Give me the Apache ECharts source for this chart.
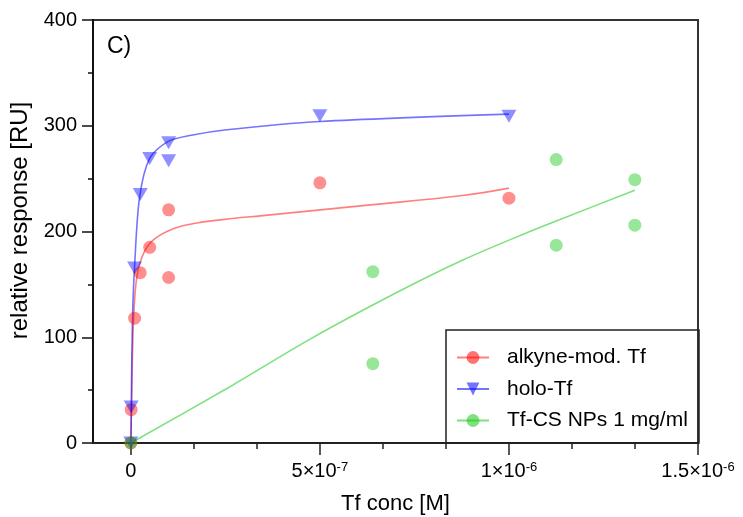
<!DOCTYPE html>
<html>
<head>
<meta charset="utf-8">
<script src="https://cdn.jsdelivr.net/npm/echarts@6/dist/echarts.min.js"></script>
<style>
  html, body { margin: 0; padding: 0; background: #fff; }
  #chart { width: 743px; height: 517px; }
</style>
</head>
<body>
<div id="chart"></div>
<script>
// Binding responses (RU) against transferrin concentration (M)
const alkyneConc = [0, 1e-9, 1e-8, 2.5e-8, 5e-8, 1e-7, 1e-7, 5e-7, 1e-6];
const alkyneResp = [0, 31.5, 118, 161, 185, 220.5, 156.5, 246, 231.5];

const holoConc = [0, 1e-9, 1e-8, 2.5e-8, 5e-8, 1e-7, 1e-7, 5e-7, 1e-6];
const holoResp = [0, 34, 165.5, 235, 269, 284, 267, 309.5, 309];

const npConc = [0, 6.4e-7, 6.4e-7, 1.125e-6, 1.125e-6, 1.333e-6, 1.333e-6];
const npResp = [0, 162, 75, 268, 187, 249, 206];

// Fitted binding curves
const alkyneFitConc = [0, 2.6e-9, 5.3e-9, 9.8e-9, 1.85e-8, 3.6e-8, 6.3e-8, 1.16e-7, 1.75e-7, 2.48e-7, 3.49e-7, 6.14e-7, 8.78e-7, 1e-6];
const alkyneFitResp = [0, 49, 96, 134, 162, 181, 193, 203, 208, 211.5, 215, 224.5, 234, 241];

const holoFitConc = [0, 1e-9, 2.6e-9, 5.3e-9, 9.8e-9, 2.3e-8, 4.95e-8, 9.8e-8, 1.6e-7, 2.48e-7, 5e-7, 1e-6];
const holoFitResp = [0, 17, 80, 128, 166, 232, 269, 285, 291, 296, 304, 311];

const npFitConc = [0, 2.61e-7, 4.73e-7, 7.02e-7, 8.78e-7, 1.055e-6, 1.125e-6, 1.333e-6];
const npFitResp = [0, 53, 98, 142, 173, 200, 210, 239];

// Axis ticks
const xTickValues = [0, 5e-7, 1e-6, 1.5e-6];
const xTickLabels = ['0', '5×10{sup|-7}', '1×10{sup|-6}', '1.5×10{sup|-6}'];
const xMinorTickValues = [1.6667e-7, 3.3333e-7, 6.6667e-7, 8.3333e-7, 1.16667e-6, 1.33333e-6];

const seriesNames = ['alkyne-mod. Tf', 'holo-Tf', 'Tf-CS NPs 1 mg/ml'];
const pointColors = ['rgba(255,0,0,0.55)', 'rgba(0,0,255,0.55)', 'rgba(20,200,20,0.55)'];
const lineColors = ['rgba(255,0,0,0.5)', 'rgba(0,0,255,0.55)', 'rgba(20,200,20,0.55)'];

const FONT = "'Liberation Sans', Arial, sans-serif";

function pairs(xs, ys) { return xs.map((x, i) => [x, ys[i]]); }

const groups = [
  { fit: pairs(alkyneFitConc, alkyneFitResp), pts: pairs(alkyneConc, alkyneResp), symbol: 'circle', size: 13, rotate: 0, smooth: 0.4 },
  { fit: pairs(holoFitConc, holoFitResp), pts: pairs(holoConc, holoResp), symbol: 'triangle', size: [15, 13], rotate: 180, smooth: 0.3 },
  { fit: pairs(npFitConc, npFitResp), pts: pairs(npConc, npResp), symbol: 'circle', size: 13, rotate: 0, smooth: 0.3 }
];

const series = [];
groups.forEach((g, i) => {
  series.push({
    name: seriesNames[i],
    type: 'line',
    data: g.fit,
    smooth: g.smooth,
    showSymbol: false,
    symbol: g.symbol,
    symbolRotate: g.rotate,
    symbolSize: g.size,
    itemStyle: { color: pointColors[i] },
    lineStyle: { color: lineColors[i], width: 1.6 },
    z: 2,
    silent: true
  });
});
groups.forEach((g, i) => {
  series.push({
    name: seriesNames[i],
    type: 'scatter',
    data: g.pts,
    symbol: g.symbol,
    symbolRotate: g.rotate,
    symbolSize: g.size,
    itemStyle: { color: pointColors[i] },
    z: 3
  });
});

const chart = echarts.init(document.getElementById('chart'), null, { renderer: 'canvas' });
chart.setOption({
  animation: false,
  backgroundColor: '#fff',
  textStyle: { fontFamily: FONT },
  grid: {
    left: 93, right: 45, top: 20, bottom: 74,
    containLabel: false,
    outerBoundsMode: 'none',
    show: true,
    borderColor: '#333',
    borderWidth: 2
  },
  xAxis: [
    {
      type: 'value',
      min: -1e-7,
      max: 1.5e-6,
      name: 'Tf conc [M]',
      nameLocation: 'middle',
      nameGap: 50,
      nameTextStyle: { fontSize: 22, color: '#000', fontFamily: FONT },
      axisLine: { onZero: false, lineStyle: { color: '#222', width: 2 } },
      axisTick: { show: true, customValues: xTickValues, length: 12, lineStyle: { color: '#222', width: 1.5 } },
      axisLabel: {
        customValues: xTickValues,
        margin: 18,
        color: '#000',
        fontSize: 20,
        fontFamily: FONT,
        formatter: function (v) {
          const idx = xTickValues.findIndex(t => Math.abs(t - v) < 1e-12);
          return idx >= 0 ? xTickLabels[idx] : '';
        },
        rich: {
          sup: { fontSize: 13, verticalAlign: 'top', lineHeight: 13, color: '#000', fontFamily: FONT }
        }
      },
      splitLine: { show: false }
    },
    {
      type: 'value',
      min: -1e-7,
      max: 1.5e-6,
      position: 'bottom',
      axisLine: { show: false, onZero: false },
      axisTick: { show: true, customValues: xMinorTickValues, length: 6, lineStyle: { color: '#222', width: 1.5 } },
      axisLabel: { show: false },
      splitLine: { show: false }
    }
  ],
  yAxis: {
    type: 'value',
    min: 0,
    max: 400,
    interval: 100,
    name: 'relative response [RU]',
    nameLocation: 'middle',
    nameGap: 57,
    nameTextStyle: { fontSize: 24, color: '#000', fontFamily: FONT, padding: [0, 0, 0, 22] },
    axisLine: { show: true, onZero: false, lineStyle: { color: '#111', width: 2 } },
    axisTick: { show: true, length: 11, lineStyle: { color: '#111', width: 1.5 } },
    minorTick: { show: true, splitNumber: 2, length: 5, lineStyle: { color: '#111', width: 1.5 } },
    axisLabel: { margin: 16, color: '#000', fontSize: 20, fontFamily: FONT },
    splitLine: { show: false }
  },
  legend: {
    data: seriesNames,
    orient: 'vertical',
    left: 456,
    top: 347,
    padding: 0,
    itemWidth: 32,
    itemHeight: 16,
    itemGap: 10.5,
    selectedMode: false,
    textStyle: { fontSize: 21, color: '#000', fontFamily: FONT, lineHeight: 20, padding: [0, 0, 0, 13] }
  },
  graphic: [
    {
      type: 'rect',
      shape: { x: 446, y: 330, width: 253, height: 113 },
      style: { fill: 'none', stroke: '#222', lineWidth: 1.5 },
      z: 5
    },
    {
      type: 'text',
      x: 107,
      y: 47,
      style: { text: 'C)', fontSize: 23, fontFamily: FONT, fill: '#000', verticalAlign: 'middle' },
      z: 5
    }
  ],
  series: series
});
</script>
</body>
</html>
